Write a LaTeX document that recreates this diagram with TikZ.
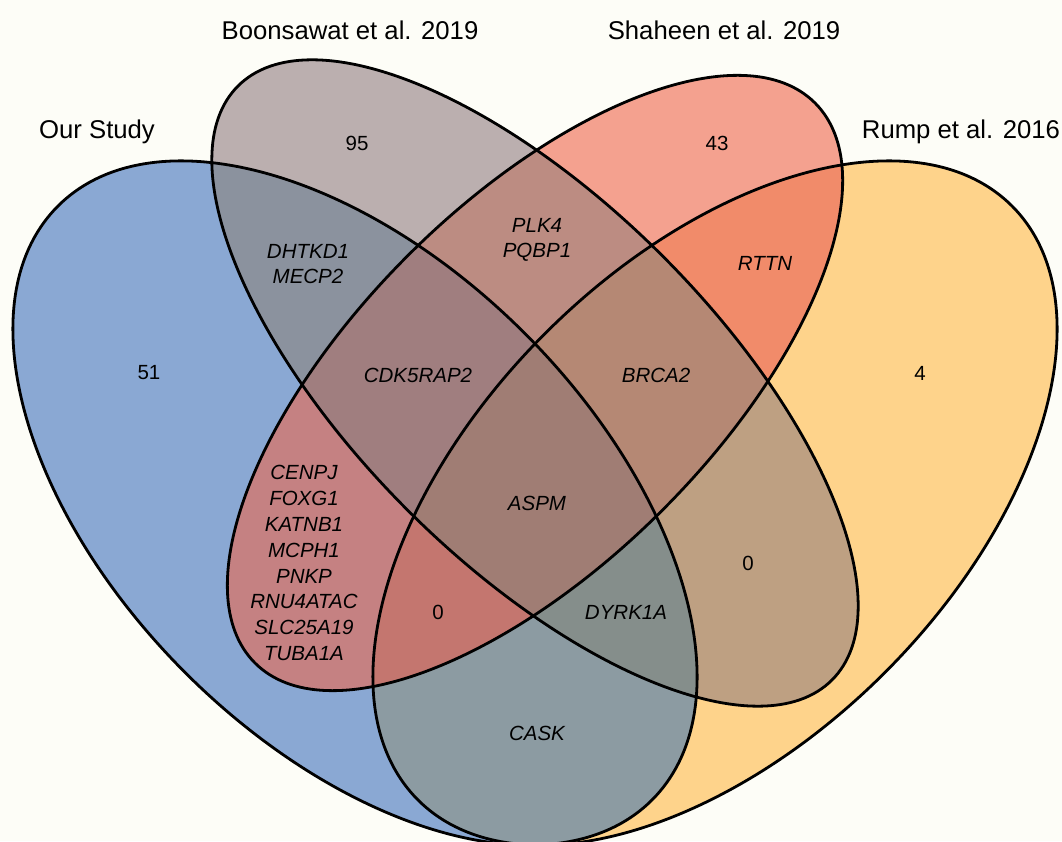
\documentclass[tikz,border=0pt]{standalone}
\usepackage{fontspec}
\setmainfont{Liberation Sans}
\definecolor{bgc}{HTML}{FDFDF7}
\definecolor{cB}{HTML}{8AA8D3}
\definecolor{cG}{HTML}{BBAFAF}
\definecolor{cR}{HTML}{F4A18F}
\definecolor{cY}{HTML}{FED38B}
\definecolor{cBG}{HTML}{8B929E}
\definecolor{cBR}{HTML}{C58182}
\definecolor{cBY}{HTML}{8C9BA2}
\definecolor{cGR}{HTML}{BC8C82}
\definecolor{cGY}{HTML}{BEA082}
\definecolor{cRY}{HTML}{F18B6A}
\definecolor{cBGR}{HTML}{A07E7F}
\definecolor{cBGY}{HTML}{858E8B}
\definecolor{cBRY}{HTML}{C4766F}
\definecolor{cGRY}{HTML}{B58874}
\definecolor{cBGRY}{HTML}{A07D74}
\begin{document}
\def\EB{[rotate around={-45:(355,338)}] (355,338) ellipse [x radius=420pt, y radius=240pt]}
\def\EG{[rotate around={-45:(535,458)}] (535,458) ellipse [x radius=420pt, y radius=180pt]}
\def\ER{[rotate around={45:(535,458)}] (535,458) ellipse [x radius=396pt, y radius=180pt]}
\def\EY{[rotate around={45:(715,338)}] (715,338) ellipse [x radius=420pt, y radius=240pt]}
\begin{tikzpicture}[x=1pt,y=1pt,
  lab/.style={font=\fontsize{20.5}{25}\selectfont, inner sep=0pt},
  gene/.style={inner sep=0pt, font=\fontsize{20.5}{25.5}\selectfont\itshape, align=center},
  title/.style={font=\fontsize{25.7}{30}\selectfont, inner sep=0pt},
  outline/.style={draw=black, line width=2.8pt}]
\useasboundingbox (0,0) rectangle (1062,841);
\fill[bgc] (0,0) rectangle (1062,841);
\begin{scope}
\clip (0,0) rectangle (1062,841);
% single sets
\fill[cB] \EB;
\fill[cG] \EG;
\fill[cR] \ER;
\fill[cY] \EY;
% pairs
\begin{scope}\clip \EB; \fill[cBG] \EG; \end{scope}
\begin{scope}\clip \EB; \fill[cBR] \ER; \end{scope}
\begin{scope}\clip \EB; \fill[cBY] \EY; \end{scope}
\begin{scope}\clip \EG; \fill[cGR] \ER; \end{scope}
\begin{scope}\clip \EG; \fill[cGY] \EY; \end{scope}
\begin{scope}\clip \ER; \fill[cRY] \EY; \end{scope}
% triples
\begin{scope}\clip \EB; \clip \EG; \fill[cBGR] \ER; \end{scope}
\begin{scope}\clip \EB; \clip \EG; \fill[cBGY] \EY; \end{scope}
\begin{scope}\clip \EB; \clip \ER; \fill[cBRY] \EY; \end{scope}
\begin{scope}\clip \EG; \clip \ER; \fill[cGRY] \EY; \end{scope}
% all four
\begin{scope}\clip \EB; \clip \EG; \clip \ER; \fill[cBGRY] \EY; \end{scope}
% outlines
\path[outline] \EB;
\path[outline] \EG;
\path[outline] \ER;
\path[outline] \EY;
\end{scope}
% titles
\node[title] (tOur) at (97,709) {Our Study};
\node[title] (tBoon) at (350,811) {Boonsawat et al. 2019};
\node[title] (tShah) at (724,811) {Shaheen et al. 2019};
\node[title] (tRump) at (961,709) {Rump et al. 2016};
% counts and genes
\node[lab] (n51) at (149,468) {51};
\node[lab] (n95) at (357,698) {95};
\node[lab] (n43) at (717,698) {43};
\node[lab] (n4) at (920,468) {4};
\node[gene] (gBG) at (308,577) {DHTKD1\\MECP2};
\node[gene] (gGR) at (537,601) {PLK4\\PQBP1};
\node[gene] (gRY) at (765,578) {RTTN};
\node[gene] (gBGR) at (418,466) {CDK5RAP2};
\node[gene] (gGRY) at (656,466) {BRCA2};
\node[gene] (gAll) at (537,338) {ASPM};
\node[gene, font=\fontsize{20.5}{25.9}\selectfont\itshape] (gBR) at (304,278) {CENPJ\\FOXG1\\KATNB1\\MCPH1\\PNKP\\RNU4ATAC\\SLC25A19\\TUBA1A};
\node[lab] (nBRY) at (438,229) {0};
\node[lab] (nGY) at (748,278) {0};
\node[gene] (gBGY) at (626,229) {DYRK1A};
\node[gene] (gBY) at (537,108) {CASK};
\end{tikzpicture}
\end{document}
